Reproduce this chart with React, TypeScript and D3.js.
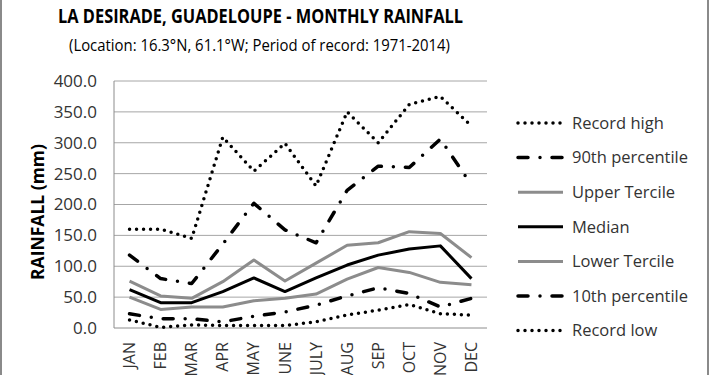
import * as d3 from "d3"

const months = ["JAN", "FEB", "MAR", "APR", "MAY", "JUNE", "JULY", "AUG", "SEP", "OCT", "NOV", "DEC"]

const recordHigh = [160, 160, 145, 309, 254, 299, 230, 350, 300, 362, 375, 327]
const p90 = [118, 80, 72, 136, 202, 159, 138, 223, 262, 260, 306, 232]
const upperTercile = [76, 52, 48, 75, 110, 76, 105, 134, 138, 156, 153, 114]
const median = [62, 41, 41, 59, 81, 59, 81, 102, 118, 128, 133, 80]
const lowerTercile = [50, 30, 34, 34, 44, 48, 55, 79, 98, 90, 74, 70]
const p10 = [23, 15, 15, 10, 19, 26, 37, 52, 65, 56, 34, 48]
const recordLow = [13, 1, 5, 4, 4, 4, 10, 21, 29, 38, 23, 21]

const yTicks = [0, 50, 100, 150, 200, 250, 300, 350, 400]

const W = 710
const H = 375
const font = "'Open Sans', sans-serif"

// styles per line
const dotted = { stroke: "#000", width: 3.5, dash: "0,7", cap: "round" }
const dashDot = { stroke: "#000", width: 3.5, dash: "10,12,0,12", cap: "round" }
const greySolid = { stroke: "#8c8c8c", width: 3, dash: null, cap: "butt" }
const blackSolid = { stroke: "#000", width: 3, dash: null, cap: "butt" }

const series = [
  { name: "Record high", values: recordHigh, ...dotted },
  { name: "90th percentile", values: p90, ...dashDot },
  { name: "Upper Tercile", values: upperTercile, ...greySolid },
  { name: "Median", values: median, ...blackSolid },
  { name: "Lower Tercile", values: lowerTercile, ...greySolid },
  { name: "10th percentile", values: p10, ...dashDot },
  { name: "Record low", values: recordLow, ...dotted },
]

export default function App() {
  const left = 114, right = 487, top = 81, bottom = 328

  const x = d3.scaleBand<string>().domain(months).range([left, right])
  const y = d3.scaleLinear().domain([0, 400]).range([bottom, top])

  const line = d3.line<number>()
    .x((_, i) => (x(months[i]) as number) + x.bandwidth() / 2)
    .y(d => y(d))

  return (
    <svg width={W} height={H} style={{ position: "absolute", left: 0, top: 0, background: "#fff" }} fontFamily={font}>
      <rect x={0} y={0} width={W} height={H} fill="#fff" />
      <line x1={1} y1={0} x2={1} y2={H} stroke="#8a8a8a" strokeWidth={2} />
      <line x1={W - 2} y1={0} x2={W - 2} y2={H} stroke="#8a8a8a" strokeWidth={2} />

      {/* titles */}
      <text x={58} y={23} fontSize={19} fontWeight="bold" fill="#000" textLength={405} lengthAdjust="spacingAndGlyphs">
        LA DESIRADE, GUADELOUPE - MONTHLY RAINFALL
      </text>
      <text x={69} y={51} fontSize={16.5} fill="#000" textLength={381} lengthAdjust="spacingAndGlyphs">
        (Location: 16.3°N, 61.1°W; Period of record: 1971-2014)
      </text>

      {/* gridlines + y labels */}
      {yTicks.map(t => (
        <g key={t}>
          {t > 0 && <line x1={left} x2={right} y1={y(t)} y2={y(t)} stroke="#a6a6a6" strokeWidth={1} />}
          <text x={97} y={y(t)} dy="0.35em" textAnchor="end" fontSize={17} fill="#333">
            {t.toFixed(1)}
          </text>
        </g>
      ))}
      <line x1={left} x2={left} y1={top} y2={bottom} stroke="#8c8c8c" strokeWidth={1} />
      <line x1={left} x2={right} y1={bottom} y2={bottom} stroke="#8c8c8c" strokeWidth={1} />

      <text transform={`translate(44,212) rotate(-90)`} textAnchor="middle" fontSize={17.5} fontWeight="bold" fill="#000">
        RAINFALL (mm)
      </text>

      {/* x labels */}
      {months.map(m => (
        <text key={m} transform={`translate(${(x(m) as number) + x.bandwidth() / 2},342) rotate(-90)`}
          textAnchor="end" dy="0.35em" fontSize={16} fill="#333">
          {m}
        </text>
      ))}

      {/* series */}
      {series.map(s => (
        <path key={s.name} d={line(s.values) as string} fill="none" stroke={s.stroke} strokeWidth={s.width}
          strokeDasharray={s.dash ?? undefined} strokeLinecap={s.cap as any} strokeLinejoin="round" />
      ))}

      {/* legend */}
      {series.map((s, i) => {
        const ly = 123 + i * 34.6
        return (
          <g key={s.name}>
            <line x1={518} x2={563} y1={ly} y2={ly} stroke={s.stroke} strokeWidth={s.width}
              strokeDasharray={s.dash ?? undefined} strokeLinecap={s.cap as any} />
            <text x={572} y={ly} dy="0.35em" fontSize={16.5} fill="#333">{s.name}</text>
          </g>
        )
      })}
    </svg>
  )
}
